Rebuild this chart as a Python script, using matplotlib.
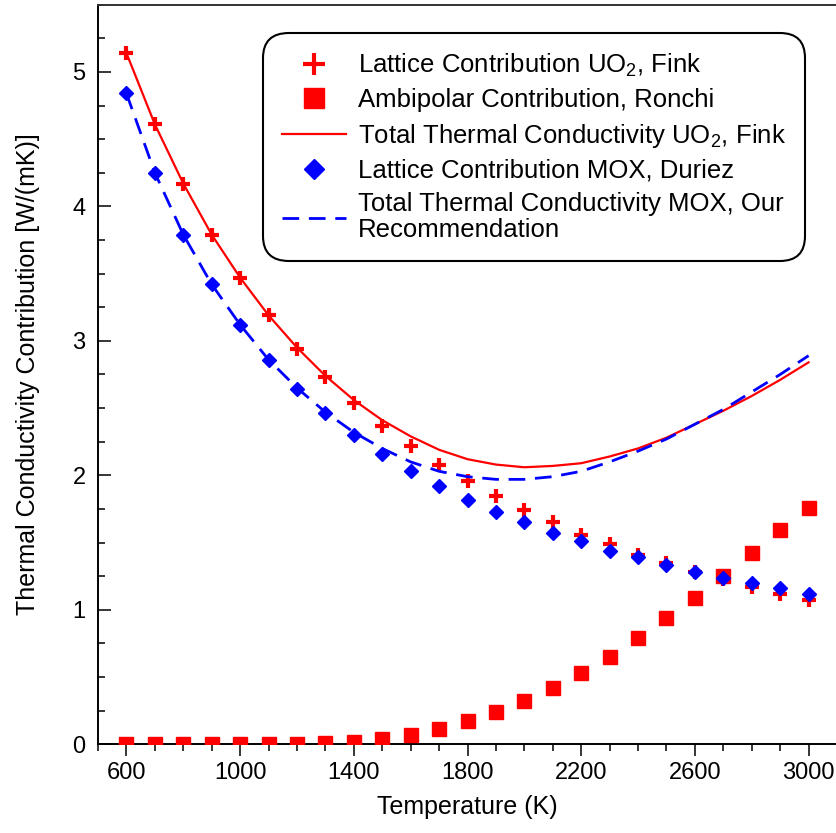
#!/usr/bin/env python3
"""Thermal conductivity contributions of UO2 and MOX vs temperature."""

import matplotlib
matplotlib.use("Agg")
import matplotlib.pyplot as plt
from matplotlib.ticker import MultipleLocator

plt.rcParams["font.family"] = ["Liberation Sans", "DejaVu Sans"]
plt.rcParams["mathtext.fontset"] = "custom"
plt.rcParams["mathtext.rm"] = "Liberation Sans"
plt.rcParams["mathtext.default"] = "regular"

temps = [600, 700, 800, 900, 1000, 1100, 1200, 1300, 1400, 1500, 1600, 1700, 1800,
         1900, 2000, 2100, 2200, 2300, 2400, 2500, 2600, 2700, 2800, 2900, 3000]
lattice_uo2 = [5.14, 4.61, 4.17, 3.79, 3.47, 3.19, 2.94, 2.73, 2.54, 2.37, 2.22, 2.08, 1.96,
               1.85, 1.74, 1.65, 1.56, 1.49, 1.41, 1.35, 1.28, 1.23, 1.17, 1.12, 1.07]
ambipolar = [0.00, 0.00, 0.00, 0.00, 0.00, 0.00, 0.005, 0.01, 0.02, 0.04, 0.07, 0.11, 0.17,
             0.24, 0.32, 0.42, 0.53, 0.65, 0.79, 0.94, 1.09, 1.25, 1.42, 1.59, 1.76]
total_uo2 = [5.14, 4.61, 4.17, 3.79, 3.47, 3.19, 2.95, 2.74, 2.56, 2.41, 2.29, 2.19, 2.12,
             2.08, 2.06, 2.07, 2.09, 2.14, 2.20, 2.28, 2.38, 2.48, 2.59, 2.71, 2.84]
lattice_mox = [4.84, 4.25, 3.79, 3.42, 3.12, 2.86, 2.64, 2.46, 2.30, 2.16, 2.03, 1.92, 1.82,
               1.73, 1.65, 1.57, 1.51, 1.44, 1.39, 1.33, 1.28, 1.24, 1.20, 1.16, 1.12]
total_mox = [4.84, 4.25, 3.79, 3.42, 3.12, 2.86, 2.65, 2.47, 2.32, 2.20, 2.10, 2.03, 1.99,
             1.97, 1.97, 1.99, 2.03, 2.10, 2.18, 2.27, 2.38, 2.49, 2.62, 2.75, 2.89]

RED = "#ff0000"
BLUE = "#0000ff"

fig = plt.figure(figsize=(8.37, 8.33), dpi=100)
ax = fig.add_axes([0.1171, 0.1065, 0.8829, 0.8879])

ax.plot(temps, lattice_uo2, linestyle="none", marker="+", markersize=10.5,
        markeredgewidth=3.0, color=RED, label=r"Lattice Contribution UO$_2$, Fink", zorder=3)
ax.plot(temps, ambipolar, linestyle="none", marker="s", markersize=10,
        color=RED, label="Ambipolar Contribution, Ronchi", zorder=4)
ax.plot(temps, total_uo2, color=RED, linewidth=1.6,
        label=r"Total Thermal Conductivity UO$_2$, Fink", zorder=3)
ax.plot(temps, lattice_mox, linestyle="none", marker="D", markersize=7,
        color=BLUE, label="Lattice Contribution MOX, Duriez", zorder=5)
ax.plot(temps, total_mox, color=BLUE, linewidth=2.0, dashes=(6, 3.5),
        label="Total Thermal Conductivity MOX, Our\nRecommendation", zorder=6)

ax.set_xlim(500, 3100)
ax.set_ylim(0, 5.5)
ax.xaxis.set_minor_locator(MultipleLocator(100))
ax.set_xticks([600, 1000, 1400, 1800, 2200, 2600, 3000])
ax.yaxis.set_major_locator(MultipleLocator(1))
ax.yaxis.set_minor_locator(MultipleLocator(0.25))

ax.tick_params(axis="x", which="major", direction="out", length=8.5, width=1.1,
               pad=4.5, labelsize=17)
ax.tick_params(axis="x", which="minor", direction="out", length=5, width=1.1)
ax.tick_params(axis="y", which="major", direction="in", length=9.5, width=1.1,
               pad=9, labelsize=17)
ax.tick_params(axis="y", which="minor", direction="in", length=5, width=1.1)

for side in ["left", "bottom", "top"]:
    ax.spines[side].set_linewidth(1.4)
ax.spines["top"].set_color("#333333")
ax.spines["right"].set_color("#cccccc")

ax.set_xlabel("Temperature (K)", fontsize=18, labelpad=8)
ax.set_ylabel("Thermal Conductivity Contribution [W/(mK)]", fontsize=18, labelpad=23)

leg = ax.legend(loc="upper right", bbox_to_anchor=(0.957, 0.962), borderaxespad=0,
                fontsize=18.5, handlelength=2.5, handletextpad=0.45, borderpad=0.75,
                labelspacing=0.36, markerscale=1.5, fancybox=True, framealpha=1,
                edgecolor="black")
leg.get_frame().set_linewidth(1.5)
leg.get_frame().set_boxstyle("round", pad=0, rounding_size=1.0)
for txt in leg.get_texts():
    txt.set_linespacing(1.1)

fig.savefig("out.png", dpi=100)
